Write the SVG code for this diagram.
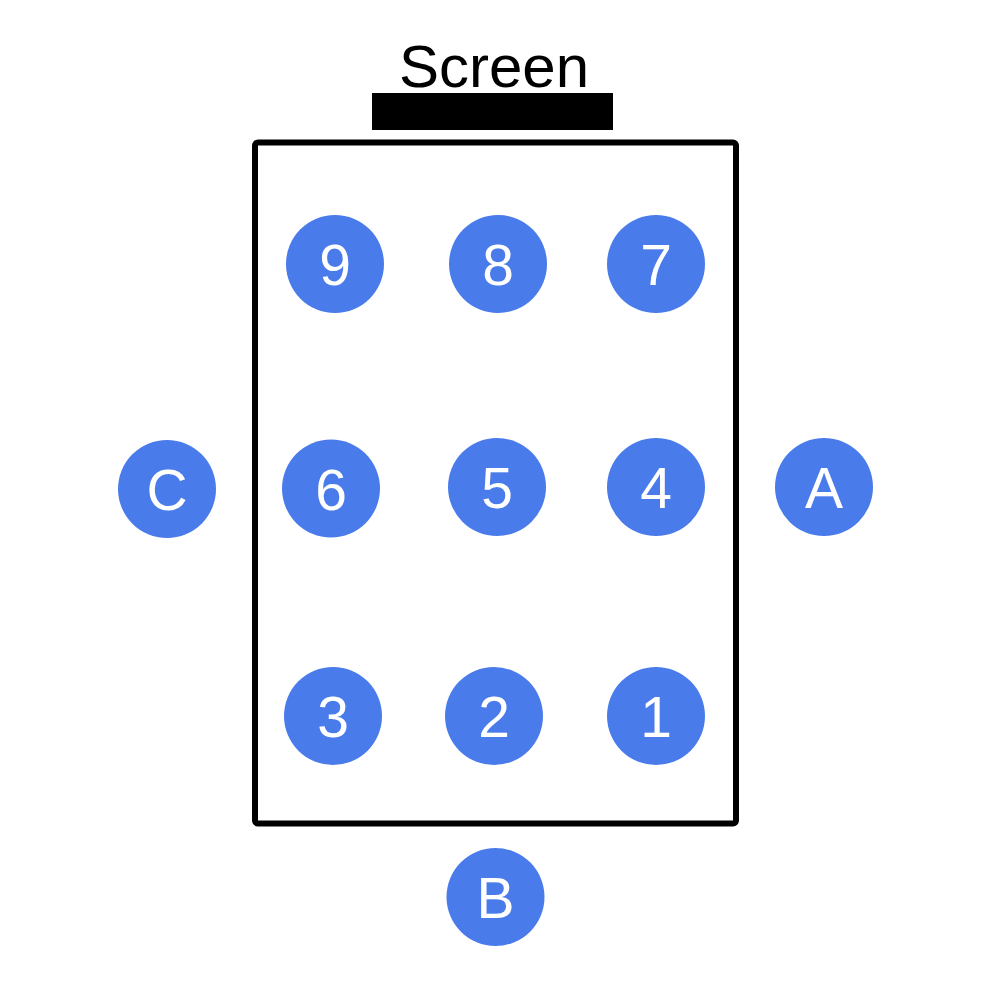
<svg xmlns="http://www.w3.org/2000/svg" width="1000" height="1000" viewBox="0 0 1000 1000">
<style>
.seat{fill:#4A7BEB}
.lbl{fill:#fff;font-family:"Liberation Sans",Arial,sans-serif;font-size:57px;text-anchor:middle}
.title{fill:#000;font-family:"Liberation Sans",Arial,sans-serif;font-size:60px;text-anchor:middle}
</style>
<rect width="1000" height="1000" fill="#fff"/>
<g id="screen">
<text class="title" x="494" y="87">Screen</text>
<rect x="372" y="93" width="241" height="37" fill="#000"/>
</g>
<g id="room">
<rect x="255" y="142.5" width="481" height="681" rx="3" fill="none" stroke="#000" stroke-width="6"/>
</g>
<g id="n9"><circle class="seat" cx="335" cy="264" r="49"/><text class="lbl" x="335" y="285">9</text></g>
<g id="n8"><circle class="seat" cx="498" cy="264" r="49"/><text class="lbl" x="498" y="285">8</text></g>
<g id="n7"><circle class="seat" cx="656" cy="264" r="49"/><text class="lbl" x="656" y="285">7</text></g>
<g id="nC"><circle class="seat" cx="167" cy="489" r="49"/><text class="lbl" x="167" y="510">C</text></g>
<g id="n6"><circle class="seat" cx="331" cy="488.5" r="49"/><text class="lbl" x="331" y="509.5">6</text></g>
<g id="n5"><circle class="seat" cx="497" cy="487" r="49"/><text class="lbl" x="497" y="508">5</text></g>
<g id="n4"><circle class="seat" cx="656" cy="487" r="49"/><text class="lbl" x="656" y="508">4</text></g>
<g id="nA"><circle class="seat" cx="824" cy="487" r="49"/><text class="lbl" x="824" y="508">A</text></g>
<g id="n3"><circle class="seat" cx="333" cy="716" r="49"/><text class="lbl" x="333" y="737">3</text></g>
<g id="n2"><circle class="seat" cx="494" cy="716" r="49"/><text class="lbl" x="494" y="737">2</text></g>
<g id="n1"><circle class="seat" cx="656" cy="716" r="49"/><text class="lbl" x="656" y="737">1</text></g>
<g id="nB"><circle class="seat" cx="495.5" cy="897" r="49"/><text class="lbl" x="495.5" y="918">B</text></g>
<g id="connectors"></g>
</svg>
